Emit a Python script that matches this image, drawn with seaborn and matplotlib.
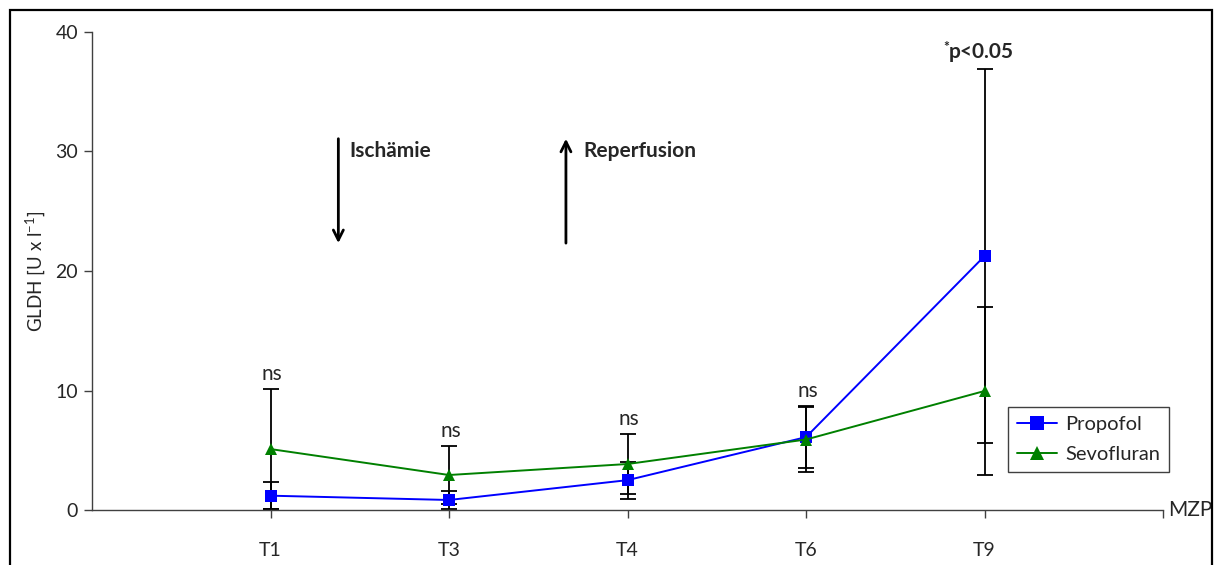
import matplotlib
matplotlib.use("Agg")
import matplotlib.pyplot as plt
from matplotlib.patches import Rectangle
import numpy as np
import pandas as pd
import seaborn as sns

# Measurement time points (MZP) and group values for GLDH
timepoints = ["T1", "T3", "T4", "T6", "T9"]
propofol_mean = [1.2, 0.84, 2.5, 6.1, 21.25]
propofol_sd = [1.15, 0.72, 1.55, 2.6, 15.65]
sevofluran_mean = [5.1, 2.93, 3.85, 5.9, 9.96]
sevofluran_sd = [5.05, 2.4, 2.5, 2.75, 7.0]
significance = ["ns", "ns", "ns", "ns", "p<0.05"]

sns.set_theme(style="white")
plt.rcParams["font.family"] = ["Lato", "DejaVu Sans"]

pos = np.arange(1, len(timepoints) + 1)
df = pd.DataFrame({
    "pos": np.concatenate([pos, pos]),
    "GLDH": propofol_mean + sevofluran_mean,
    "Gruppe": ["Propofol"] * len(pos) + ["Sevofluran"] * len(pos),
})

fig = plt.figure(figsize=(12.14, 5.65), dpi=100)
fig.patches.append(Rectangle((0.008, -0.01), 0.99, 0.992, transform=fig.transFigure,
                             fill=False, edgecolor="black", linewidth=1.6, zorder=0))
ax = fig.add_axes([0.0758, 0.0973, 0.8822, 0.8461])

# error bars (mean ± SD) beneath the lines
for mean, sd in ((propofol_mean, propofol_sd), (sevofluran_mean, sevofluran_sd)):
    ax.errorbar(pos, mean, yerr=sd, fmt="none", ecolor="black", elinewidth=1.3,
                capsize=5.5, capthick=1.3, zorder=2)

palette = {"Propofol": "#0000FF", "Sevofluran": "#008000"}
markers = {"Propofol": "s", "Sevofluran": "^"}
sns.lineplot(data=df, x="pos", y="GLDH", hue="Gruppe", style="Gruppe",
             palette=palette, markers=markers, dashes=False, markersize=9,
             markeredgewidth=0, linewidth=1.4, ax=ax, zorder=3)

ax.set_xlim(0, 6)
ax.set_ylim(0, 40)
ax.set_yticks([0, 10, 20, 30, 40])
ax.set_xticks(pos)
ax.set_xticklabels(timepoints)
ax.set_xticks([6], minor=True)
ax.set_xlabel("")
ax.set_ylabel("GLDH [U x l$^{\\mathregular{-1}}$]", fontsize=13.5, labelpad=5)

for side in ("top", "right"):
    ax.spines[side].set_visible(False)
for side in ("left", "bottom"):
    ax.spines[side].set_color("#404040")
    ax.spines[side].set_linewidth(1.0)
ax.tick_params(axis="y", direction="out", length=6, width=1, color="#404040",
               labelsize=14, pad=4, left=True)
ax.tick_params(axis="x", which="both", direction="out", length=6, width=1,
               color="#404040", labelsize=14, pad=17, bottom=True)

ax.text(6.03, 0, "MZP", fontsize=15, va="center", ha="left")

# significance labels above the upper error caps
for i, lab in enumerate(significance):
    top = max(propofol_mean[i] + propofol_sd[i], sevofluran_mean[i] + sevofluran_sd[i])
    if lab == "ns":
        ax.text(pos[i] + 0.01, top + 1.25, lab, fontsize=15, ha="center", va="center")
    else:
        ax.text(pos[i] - 0.02, top + 1.4, lab, fontsize=15, fontweight="bold",
                ha="center", va="center")
        ax.text(pos[i] - 0.215, top + 1.85, "*", fontsize=10, fontweight="bold",
                ha="center", va="center")

# ischemia / reperfusion markers
ax.annotate("", xy=(1.38, 22.1), xytext=(1.38, 31.3),
            arrowprops=dict(arrowstyle="->", lw=2, color="black", mutation_scale=18))
ax.text(1.44, 30.0, "Ischämie", fontsize=15, fontweight="bold", va="center", ha="left")
ax.annotate("", xy=(2.655, 31.3), xytext=(2.655, 22.1),
            arrowprops=dict(arrowstyle="->", lw=2, color="black", mutation_scale=18))
ax.text(2.755, 30.0, "Reperfusion", fontsize=15, fontweight="bold", va="center", ha="left")

leg = ax.legend(loc="upper left", bbox_to_anchor=(0.855, 0.215), fontsize=14.5,
                frameon=True, fancybox=False, edgecolor="#404040", framealpha=1,
                handlelength=2.0, borderpad=0.45, labelspacing=0.6, handletextpad=0.4,
                borderaxespad=0)
leg.get_frame().set_linewidth(1.0)
for h in leg.get_lines():
    h.set_markersize(10)

fig.savefig("out.png", dpi=100)
